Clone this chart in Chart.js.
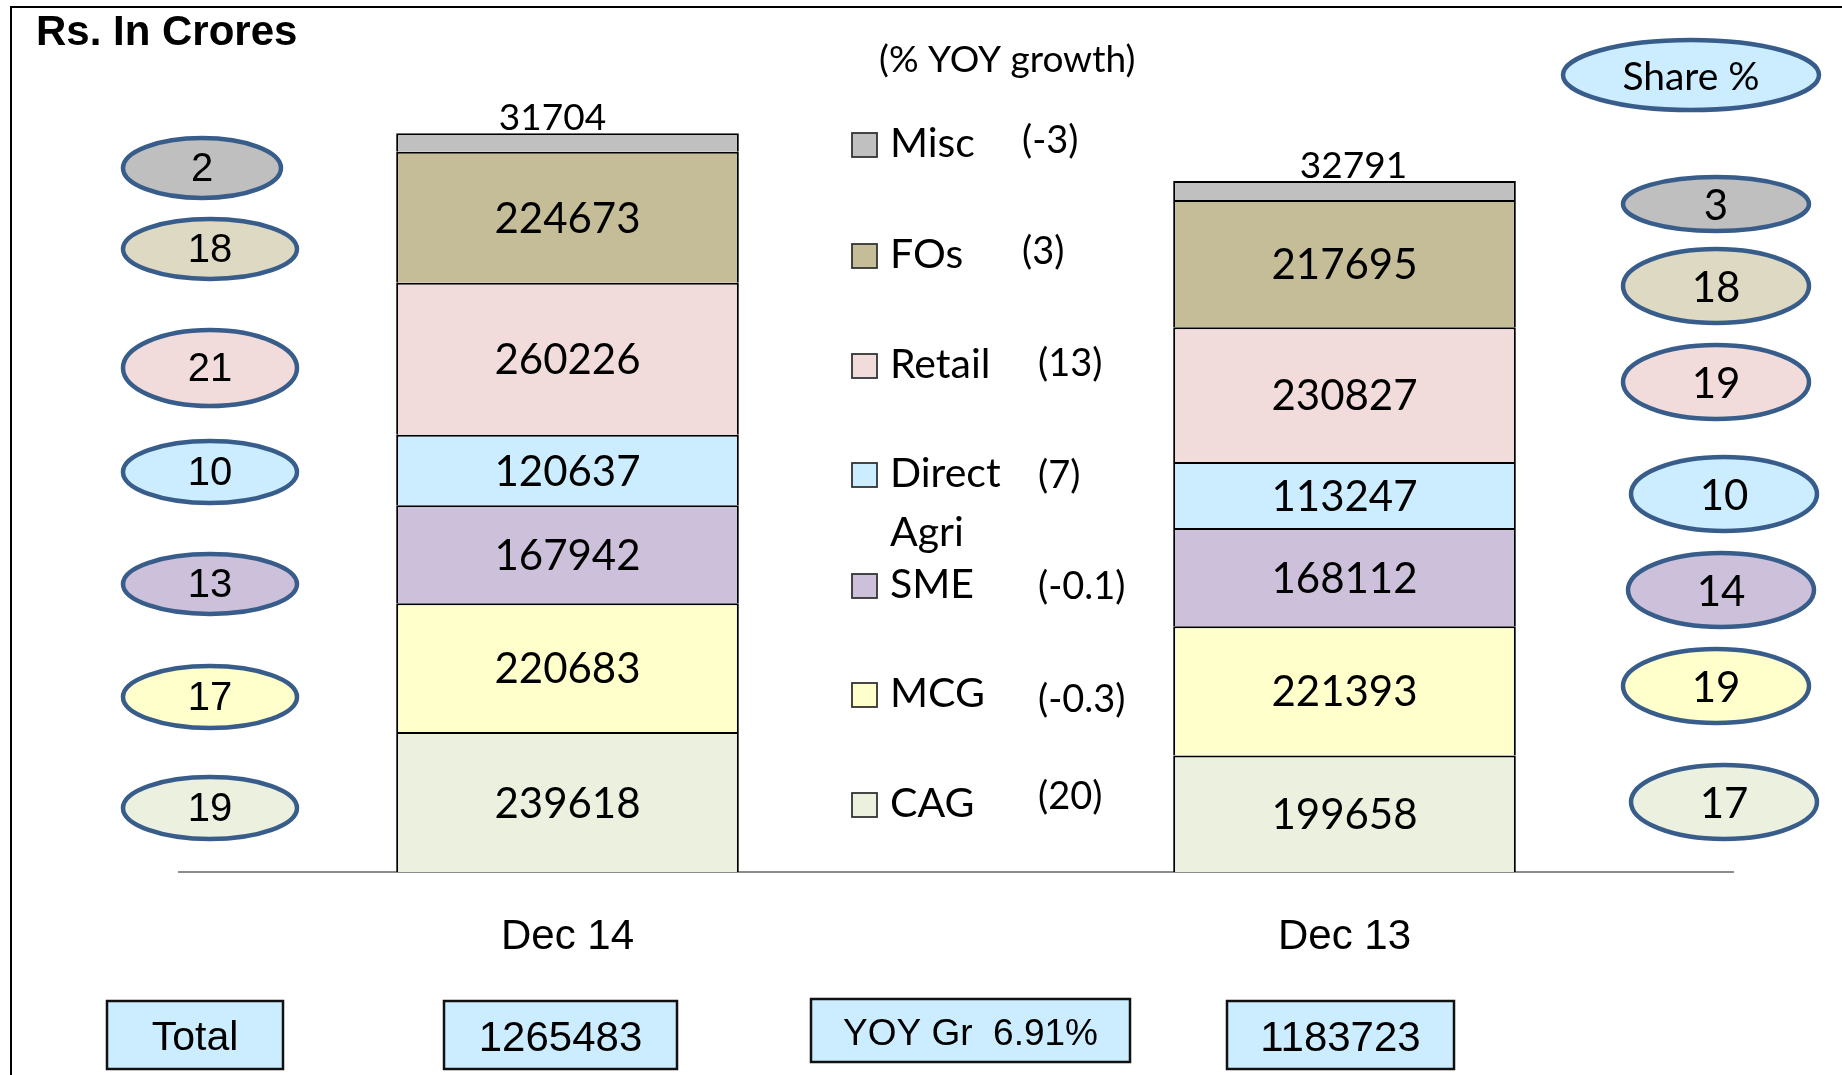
<!DOCTYPE html>
<html>
<head>
<meta charset="utf-8">
<script src="https://cdn.jsdelivr.net/npm/chart.js@4.4.1/dist/chart.umd.min.js"></script>
<style>
  html, body { margin: 0; padding: 0; background: #fff; overflow: hidden; }
  #wrap { position: relative; width: 1842px; height: 1075px; }
</style>
</head>
<body>
<div id="wrap"><canvas id="chart"></canvas></div>
<script>
// data (stack order bottom -> top)
const categories = ['Dec 14', 'Dec 13'];
const segments = ['CAG', 'MCG', 'SME', 'Direct Agri', 'Retail', 'FOs', 'Misc'];
const cag = [239618, 199658];
const mcg = [220683, 221393];
const sme = [167942, 168112];
const directAgri = [120637, 113247];
const retail = [260226, 230827];
const fos = [224673, 217695];
const misc = [31704, 32791];
const yoyGrowth = ['(20)', '(-0.3)', '(-0.1)', '(7)', '(13)', '(3)', '(-3)'];
const shareDec14 = [19, 17, 13, 10, 21, 18, 2];
const shareDec13 = [17, 19, 14, 10, 19, 18, 3];
const totals = [1265483, 1183723];
const yoyTotal = '6.91%';

const barColors = ['#EBF1DE', '#FFFFCC', '#CCC0DA', '#CCECFF', '#F2DCDB', '#C4BD97', '#C0C0C0'];
const ovalColors = ['#EBF1DE', '#FFFFCC', '#CCC0DA', '#CCECFF', '#F2DCDB', '#DDD9C3', '#BFBFBF'];

// annotation layout (pixels)
const leftOvals = [[210, 808, 87, 31], [210, 697, 87, 31], [210, 584, 87, 30], [210, 472, 87, 31], [210, 368, 87, 38], [210, 249, 87, 30], [202, 168, 79, 30]];
const rightOvals = [[1724, 802, 93, 37], [1716, 686, 93, 37], [1721, 590, 93, 37], [1724, 494, 93, 37], [1716, 382, 93, 37], [1716, 286, 93, 37], [1716, 204, 93, 27]];
const legendY = [804, 694, 585, 474, 365, 255, 144];
const yoyPos = [[1038, 797], [1038, 700], [1038, 587], [1038, 476], [1038, 364], [1022, 252], [1022, 141]];
const topLabelShift = [-15, 9];

const ARIAL = '"Liberation Sans", Arial, sans-serif';
const CAL = 'Lato, "Open Sans", sans-serif';

const seriesValues = [cag, mcg, sme, directAgri, retail, fos, misc];

const valueLabels = {
  id: 'valueLabels',
  afterDatasetsDraw(chart) {
    const ctx = chart.ctx;
    ctx.save();
    ctx.fillStyle = '#000';
    ctx.textAlign = 'center';
    chart.data.datasets.forEach((ds, i) => {
      chart.getDatasetMeta(i).data.forEach((bar, j) => {
        const v = ds.data[j];
        if (ds.label === 'Misc') {
          ctx.font = '37px ' + CAL;
          ctx.textBaseline = 'alphabetic';
          ctx.fillText(String(v), bar.x + topLabelShift[j], bar.y - 3);
        } else {
          ctx.font = '42px ' + CAL;
          ctx.textBaseline = 'middle';
          ctx.fillText(String(v), bar.x, (bar.y + bar.base) / 2 + 2);
        }
      });
    });
    ctx.restore();
  }
};

function oval(ctx, o, fill, text, font) {
  ctx.beginPath();
  ctx.ellipse(o[0], o[1], o[2], o[3], 0, 0, Math.PI * 2);
  ctx.fillStyle = fill;
  ctx.fill();
  ctx.lineWidth = 4.5;
  ctx.strokeStyle = '#385D8A';
  ctx.stroke();
  ctx.fillStyle = '#000';
  ctx.font = font;
  ctx.textAlign = 'center';
  ctx.textBaseline = 'middle';
  ctx.fillText(text, o[0], o[1] + 2);
}

function box(ctx, x, y, w, h, text, font) {
  ctx.fillStyle = '#CCECFF';
  ctx.fillRect(x, y, w, h);
  ctx.lineWidth = 2.5;
  ctx.strokeStyle = '#111';
  ctx.strokeRect(x, y, w, h);
  ctx.fillStyle = '#000';
  ctx.font = font;
  ctx.textAlign = 'center';
  ctx.textBaseline = 'middle';
  ctx.fillText(text, x + w / 2, y + h / 2 + 4);
}

const annotations = {
  id: 'annotations',
  afterDraw(chart) {
    const ctx = chart.ctx;
    ctx.save();
    // frame
    ctx.beginPath();
    ctx.moveTo(11, 1075);
    ctx.lineTo(11, 7);
    ctx.lineTo(1842, 7);
    ctx.lineWidth = 2;
    ctx.strokeStyle = '#000';
    ctx.stroke();

    ctx.fillStyle = '#000';
    ctx.font = 'bold 42px ' + ARIAL;
    ctx.textAlign = 'left';
    ctx.textBaseline = 'alphabetic';
    ctx.fillText('Rs. In Crores', 36, 45);

    ctx.font = '37px ' + CAL;
    ctx.textBaseline = 'middle';
    ctx.fillText('(% YOY growth)', 879, 60);

    // legend with yoy growth
    segments.forEach((name, i) => {
      const y = legendY[i];
      ctx.fillStyle = barColors[i];
      ctx.fillRect(852, y - 11, 25, 24);
      ctx.lineWidth = 1.8;
      ctx.strokeStyle = '#333';
      ctx.strokeRect(852, y - 11, 25, 24);
      ctx.fillStyle = '#000';
      ctx.font = '41px ' + CAL;
      ctx.textAlign = 'left';
      ctx.textBaseline = 'middle';
      name.split(' ').forEach((w, k) => ctx.fillText(w, 890, y + k * 59));
      ctx.font = '38px ' + CAL;
      ctx.fillText(yoyGrowth[i], yoyPos[i][0], yoyPos[i][1]);
    });

    // share % ovals
    oval(ctx, [1691, 75, 128, 35], '#CCECFF', 'Share %', '39px ' + CAL);
    leftOvals.forEach((o, i) => oval(ctx, o, ovalColors[i], String(shareDec14[i]), '40px ' + ARIAL));
    rightOvals.forEach((o, i) => oval(ctx, o, ovalColors[i], String(shareDec13[i]), '42px ' + CAL));

    // totals row
    box(ctx, 107, 1001, 176, 68, 'Total', '41px ' + ARIAL);
    box(ctx, 444, 1001, 233, 68, String(totals[0]), '42px ' + ARIAL);
    box(ctx, 811, 999, 319, 63, 'YOY Gr  ' + yoyTotal, '37px ' + ARIAL);
    box(ctx, 1227, 1001, 227, 68, String(totals[1]), '42px ' + ARIAL);
    ctx.restore();
  }
};

const chart = new Chart(document.getElementById('chart'), {
  type: 'bar',
  data: {
    labels: categories,
    datasets: segments.map((name, i) => ({
      label: name,
      data: seriesValues[i],
      backgroundColor: barColors[i],
      borderColor: '#000',
      borderWidth: 2,
      categoryPercentage: 1,
      barPercentage: 0.441
    }))
  },
  options: {
    responsive: true,
    maintainAspectRatio: false,
    animation: false,
    layout: { padding: { left: 179, right: 109, top: 113, bottom: 0 } },
    plugins: { legend: { display: false }, tooltip: { enabled: false } },
    scales: {
      x: {
        stacked: true,
        grid: { display: false, drawTicks: false },
        border: { display: true, color: '#8C8C8C', width: 2 },
        ticks: { color: '#000', padding: 40, font: { family: ARIAL, size: 42 } },
        afterFit: s => { s.height = 203; }
      },
      y: { stacked: true, display: false, min: 0, max: 1300000 }
    }
  },
  plugins: [valueLabels, annotations]
});

document.fonts.load('42px Lato').then(() => chart.update());
</script>
</body>
</html>
